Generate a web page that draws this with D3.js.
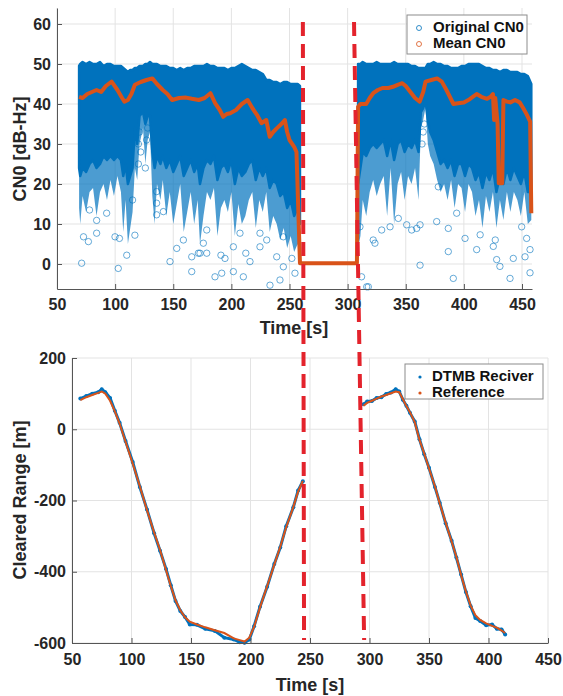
<!DOCTYPE html>
<html>
<head>
<meta charset="utf-8">
<script src="https://cdn.jsdelivr.net/npm/d3@7"></script>
<style>
  body { margin: 0; background: #fff; }
  svg { display: block; font-family: "Liberation Sans", Arial, sans-serif; }
  .axis text { font-size: 16px; font-weight: bold; fill: #262626; }
  .axis path, .axis line { stroke: #555; }
  .grid line { stroke: #e3e3e3; stroke-width: 1; }
  .label { font-size: 18px; font-weight: bold; fill: #262626; }
  .legend text { font-size: 15px; font-weight: bold; fill: #111; }
</style>
</head>
<body>
<div id="chart"></div>
<script>
(function(){

// ---- top panel: CN0 ----
// the scatter cloud: upper edge, lower edge of the solid part, lower edge of the sparse streaks
const cnTimeA   = [69,70,72,75,78,81,84,87,90,93,96,99,102,105,107,109,111,113,115,117,119,121,124,126,128,130,132,134,136,139,141,144,147,150,153,156,159,162,165,168,171,173,176,179,182,185,188,191,194,197,200,203,206,209,212,215,218,221,224,227,230,233,236,239,242,245,248,251,254,257,259];
const cnUpperA  = [49.5,50,50.5,50,50.5,50,50,50.5,49.5,50,50,49.5,49.5,49.5,49,48.5,48,48.5,48.5,49,49,49.5,49.5,50,50,50.5,50,50,50,49.5,49.5,49.5,49,49,48.5,49,48.5,49,49,49.5,49.5,49.5,49.5,50,49.5,49.5,49,49,49,48.5,49,49,49.5,50,49.5,49,48.5,48.5,48,47.5,46,46,45.5,45.5,45,45.5,45.5,45,45,45,44.5];
const cnSolidA  = [24,22,24,23,25,26,24,25,27,26,27,26,27,26,22,25,20,22,24,34,30,37,38,35,37,37,28,24,27,25,27,24,26,23,25,27,22,24,26,23,25,20,24,26,25,27,21,24,25,23,26,20,24,22,23,25,26,21,24,22,24,19,21,20,17,18,14,16,12,14,10];
const cnSparseA = [14,10,17,13,18,19,12,18,20,16,21,17,22,18,8,16,5,9,13,24,21,30,34,25,31,33,17,10,20,16,21,12,18,10,15,20,8,13,18,10,16,5,12,18,16,19,7,14,16,13,18,7,15,10,12,16,18,9,16,13,18,8,12,10,6,9,4,7,3,5,2];

const cnTimeB   = [309,311,313,316,319,322,325,328,331,334,337,340,343,346,349,352,355,358,361,363,365,367,369,371,374,377,380,383,386,389,392,395,398,401,404,407,410,413,416,419,422,425,428,431,434,437,440,443,446,449,452,455,458];
const cnUpperB  = [50,50,50.5,50,50,50,50.5,50,50,50,50,50.5,50,50,50,50,49.5,49.5,49,49,49,49,50,50,50.5,50,50,49.5,49.5,49,49,49,49.5,49.5,50,50,50,50,49.5,49,49,48.5,48.5,48,48.5,48.5,48,48,48,47.5,47.5,47,45];
const cnSolidB  = [20,24,28,27,29,30,29,30,31,27,31,26,30,31,28,30,29,31,28,38,39,41,36,33,31,28,25,26,24,26,22,25,25,22,25,24,21,23,19,23,21,24,18,22,20,24,21,24,22,20,23,18,18];
const cnSparseB = [4,7,16,12,18,21,17,20,22,12,24,10,20,23,16,22,20,24,16,34,36,39,30,27,25,21,18,20,16,21,14,20,19,13,20,18,12,16,9,17,13,18,9,16,11,18,13,18,16,12,18,10,11];

// scattered single samples below the cloud
const outTime  = [71.2,102.7,110,84.1,77,72.8,99.9,103.7,117,84.1,92.7,78,135.7,135.7,135.7,141.5,147.2,153,165.9,165.9,171.6,158.7,115,
                  120,120,121,122,127,128,126,
                  185.9,191.7,201.7,210.3,233.2,241.8,254.7,173,178.8,194.5,201.7,216,224.6,239,244.7,252,175.9,191,212.4,230.4,178.8,207.4,224.6,244.7,
                  310.6,316.4,322,329.3,336.5,317.8,312,323.5,343.6,350.8,355.1,359.4,362.3,362.3,376.6,378,386.6,386.6,390.9,393.8,401,411,414,425.3,428.2,431,427,439.7,442.5,452.6,456.9,456.9,454,449.7,364,365,366];
const outValue = [0.2,-1.1,2.2,7.7,5.6,6.8,6.8,6.4,7.2,10.9,12.7,13.5,18.1,15.2,12.3,13.1,0.6,3.9,-1.9,1.8,2.7,6,16,
                  30,25,33,28,31,34,24,
                  -3.2,-2.3,-1.9,-3.2,-5.3,-4,-2.3,2.7,2.7,1.4,4.3,0.6,4.3,1.8,-0.7,1.4,5.2,2.2,2.7,6,8.5,7.7,7.7,6.8,
                  9.3,-5.7,6,8.5,9.3,-5.7,-3.2,5.2,11.4,9.8,8.5,8.9,-0.3,9.8,10.6,19.3,8.9,3.1,-3.6,12.7,6.4,3.6,7.3,4.4,1.1,-0.6,6,-3.6,1.4,1.8,3.6,-2.2,6.4,9.3,30,33,35];

// moving mean of CN0
const meanTime  = [69,72,76,80,84,88,92,97,102,106,108,111,114,117,122,127,132,136,141,145,149,155,161,166,172,177,182,186,190,193,196,199,204,209,214,218,222,226,230,233,236,239,243,246,248,250,254,256,259,308,
                   309,311,316,319,322,326,330,335,339,343,347,350,354,358,362,365,367,372,377,381,385,391,395,400,405,411,415,420,423,425,426,427,429,430,433,434,437,440,444,448,451,454,457,458];
const meanValue = [41.8,41.5,42.5,43,43.5,43,44.5,45.6,43.5,41.5,40.6,41,42.5,44.8,45.5,46,46.4,45,43.5,42.5,41,41.5,41.6,41.3,41,41.5,42.7,40.2,38.5,36.8,37.5,37.7,38.5,40,41,39,37.3,35.2,36,31.8,33,33.9,35,36,33,31,29.3,28,0.2,0.2,
                   39.3,40,40,41.5,42.7,43.5,44,44,44.3,44.8,45.2,44.5,43,41.5,40.6,43,45.6,46,46.4,45.6,43.5,40,40.2,40.4,41.2,42.5,41.8,41.3,41.8,42.5,36,41.5,35,20.2,20.2,41,40.6,40.4,41,40.4,39,37.4,35.6,12.7];

// ---- bottom panel: cleared range ----
const refTimeA  = [57,62,67,72,75,78,82,86,90,95,101,107,113,119,124,129,133,137,141,145,149,155,162,170,178,186,191,195,199,203,208,214,220,225,230,236,240,244];
const refRangeA = [82,90,96,102,106,100,80,50,16,-35,-96,-160,-227,-290,-339,-395,-440,-480,-508,-528,-540,-548,-556,-564,-572,-587,-592,-596,-585,-555,-500,-440,-380,-330,-275,-218,-175,-145];
const rxRangeA  = [86,93,100,104,112,104,88,52,18,-33,-92,-162,-225,-292,-341,-392,-438,-482,-510,-527,-548,-549,-560,-566,-585,-590,-598,-599,-590,-553,-498,-442,-378,-332,-272,-219,-172,-146];

const refTimeB  = [295,298,302,306,310,314,318,322,325,328,331,334,338,342,346,350,355,359,364,369,373,377,381,385,389,393,398,403,407,411,414];
const refRangeB = [66,74,80,86,92,96,101,106,104,85,65,48,20,-30,-68,-110,-160,-208,-262,-315,-358,-410,-455,-495,-522,-535,-545,-552,-557,-565,-572];
const rxRangeB  = [70,78,79,88,90,99,103,112,106,83,66,46,22,-28,-70,-108,-162,-206,-264,-313,-360,-408,-457,-497,-530,-538,-550,-548,-560,-562,-576];

// outage window (red dashed markers), in each panel's own time base
const cnGapTime    = [261.5, 305.5];
const rangeGapTime = [245, 295.5];

const cnTicksX = d3.range(50, 451, 50);
const cnTicksY = [0, 10, 20, 30, 40, 50, 60];
const rangeTicksX = d3.range(50, 451, 50);
const rangeTicksY = [-600, -400, -200, 0, 200];

const blue = "#0072BD", orange = "#D95319", red = "#e3232c";
const width = 563, height = 696;

const svg = d3.select("#chart").append("svg")
  .attr("width", width)
  .attr("height", height);

// scales
const x1 = d3.scaleLinear().domain([50, 458.6]).range([57, 532]);
const y1 = d3.scaleLinear().domain([-6.25, 64]).range([289, 8]);
const x2 = d3.scaleLinear().domain([50, 450]).range([72, 548]);
const y2 = d3.scaleLinear().domain([-600, 200]).range([643, 358]);

function grid(x, y, tx, ty) {
  const gg = svg.append("g").attr("class", "grid");
  gg.selectAll(".gx").data(tx).enter().append("line")
    .attr("x1", d => x(d)).attr("x2", d => x(d))
    .attr("y1", y.range()[0]).attr("y2", y.range()[1]);
  gg.selectAll(".gy").data(ty).enter().append("line")
    .attr("y1", d => y(d)).attr("y2", d => y(d))
    .attr("x1", x.range()[0]).attr("x2", x.range()[1]);
}
grid(x1, y1, cnTicksX, cnTicksY);
grid(x2, y2, rangeTicksX, rangeTicksY);

// top: sparse streaks (lighter), then the solid cloud
const sparse = d3.area().x(d => x1(d[0])).y0(d => y1(d[3])).y1(d => y1(d[2]));
const solid = d3.area().x(d => x1(d[0])).y0(d => y1(d[2])).y1(d => y1(d[1]));
[[cnTimeA, cnUpperA, cnSolidA, cnSparseA], [cnTimeB, cnUpperB, cnSolidB, cnSparseB]].forEach(s => {
  const pts = s[0].map((t, i) => [t, s[1][i], s[2][i], s[3][i]]);
  svg.append("path")
    .datum(pts)
    .attr("d", sparse)
    .attr("fill", blue)
    .attr("fill-opacity", 0.7);
  svg.append("path")
    .datum(pts)
    .attr("d", solid)
    .attr("fill", blue)
    .attr("stroke", blue)
    .attr("stroke-width", 2.5)
    .attr("stroke-linejoin", "round");
});

svg.append("g").selectAll("circle")
  .data(outTime.map((t, i) => [t, outValue[i]]))
  .enter().append("circle")
  .attr("cx", d => x1(d[0]))
  .attr("cy", d => y1(d[1]))
  .attr("r", 3.2)
  .attr("fill", "none")
  .attr("stroke", blue)
  .attr("stroke-opacity", 0.75)
  .attr("stroke-width", 0.8);

svg.append("path")
  .datum(meanTime.map((t, i) => [t, meanValue[i]]))
  .attr("d", d3.line().x(d => x1(d[0])).y(d => y1(d[1])))
  .attr("fill", "none")
  .attr("stroke", orange)
  .attr("stroke-width", 4)
  .attr("stroke-linejoin", "round");

// bottom: receiver vs reference
const rline = d3.line().x(d => x2(d[0])).y(d => y2(d[1]));
[[refTimeA, rxRangeA, refRangeA], [refTimeB, rxRangeB, refRangeB]].forEach(s => {
  const rx = s[0].map((t, i) => [t, s[1][i]]);
  const ref = s[0].map((t, i) => [t, s[2][i]]);
  svg.append("path").datum(rx).attr("d", rline)
    .attr("fill", "none").attr("stroke", blue).attr("stroke-width", 3);
  svg.append("g").selectAll("circle").data(rx).enter().append("circle")
    .attr("cx", d => x2(d[0])).attr("cy", d => y2(d[1])).attr("r", 2).attr("fill", blue);
  svg.append("path").datum(ref).attr("d", rline)
    .attr("fill", "none").attr("stroke", orange).attr("stroke-width", 2);
});

// axes
function axes(x, y, tx, ty, pad) {
  svg.append("g").attr("class", "axis")
    .attr("transform", `translate(0,${y.range()[0]})`)
    .call(d3.axisBottom(x).tickValues(tx).tickFormat(d3.format("d"))
      .tickSizeInner(-5).tickSizeOuter(0).tickPadding(pad));
  svg.append("g").attr("class", "axis")
    .attr("transform", `translate(${x.range()[0]},0)`)
    .call(d3.axisLeft(y).tickValues(ty).tickFormat(d3.format("d"))
      .tickSizeInner(-5).tickSizeOuter(0).tickPadding(6));
}
axes(x1, y1, cnTicksX, cnTicksY, 10);
axes(x2, y2, rangeTicksX, rangeTicksY, 11);
svg.selectAll(".axis text").text(function(){ return this.textContent.replace("\u2212", "-"); });

// axis labels
svg.append("text").attr("class", "label").attr("x", 294).attr("y", 334)
  .attr("text-anchor", "middle").text("Time [s]");
svg.append("text").attr("class", "label").attr("x", 310).attr("y", 691)
  .attr("text-anchor", "middle").text("Time [s]");
svg.append("text").attr("class", "label")
  .attr("transform", "translate(26,149) rotate(-90)")
  .attr("text-anchor", "middle").text("CN0 [dB-Hz]");
svg.append("text").attr("class", "label")
  .attr("transform", "translate(26,500) rotate(-90)")
  .attr("text-anchor", "middle").text("Cleared Range [m]");

// red dashed outage markers spanning both panels
cnGapTime.forEach((t, i) => {
  svg.append("line")
    .attr("x1", x1(t)).attr("y1", 22)
    .attr("x2", x2(rangeGapTime[i])).attr("y2", 640)
    .attr("stroke", red)
    .attr("stroke-width", 4)
    .attr("stroke-dasharray", "14,8");
});

// legends
function legend(x0, y0, w, h, items, marker) {
  const g = svg.append("g").attr("class", "legend");
  g.append("rect").attr("x", x0).attr("y", y0).attr("width", w).attr("height", h)
    .attr("fill", "#fff").attr("stroke", "#8c8c8c").attr("stroke-width", 1);
  items.forEach((it, i) => {
    const cy = y0 + 13 + i * 16;
    if (marker === "o") {
      g.append("circle").attr("cx", x0 + 12).attr("cy", cy).attr("r", 2.5)
        .attr("fill", "none").attr("stroke", it[1]).attr("stroke-width", 0.8);
    } else {
      g.append("circle").attr("cx", x0 + 15).attr("cy", cy).attr("r", 1.6).attr("fill", it[1]);
    }
    g.append("text").attr("x", x0 + (marker === "o" ? 26 : 27)).attr("y", cy)
      .attr("dominant-baseline", "middle").text(it[0]);
  });
}
legend(407, 15, 120, 39, [["Original CN0", blue], ["Mean CN0", orange]], "o");
legend(405, 364, 138, 35, [["DTMB Reciver", blue], ["Reference", orange]], ".");

})();
</script>
</body>
</html>
